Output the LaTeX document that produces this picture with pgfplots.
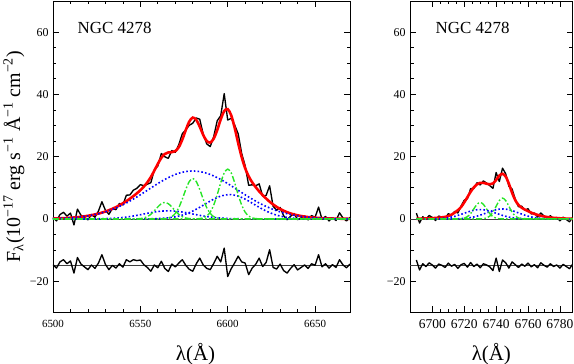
\documentclass[border=0pt]{standalone}
\usepackage{fontspec}
\setmainfont{Liberation Serif}
\usepackage{pgfplots}
\usepackage{pgfplotstable}
\pgfplotsset{compat=1.18}
\definecolor{fitred}{rgb}{1,0,0}
\definecolor{cblue}{rgb}{0,0,1}
\definecolor{cgreen}{rgb}{0.15,0.9,0.15}

\pgfplotstableread{
x obs fit res g1 g2 g3 b1 b2 b3
6500 0.42 0.12 -14.7 0 0 0 0.12 0 0
6502 -0.65 0.15 -15.8 0 0 0 0.15 0 0
6504 1.39 0.19 -13.8 0 0 0 0.19 0 0
6506 2.14 0.24 -13.1 0 0 0 0.24 0 0
6508 0.89 0.29 -14.4 0 0 0 0.29 0 0
6510 1.87 0.37 -13.5 0 0 0 0.37 0 0
6512 -1.95 0.45 -17.4 0 0 0 0.45 0 0
6514 3.15 0.55 -12.4 0 0 0 0.55 0 0
6516 1.18 0.68 -14.5 0 0 0 0.68 0 0
6518 0.43 0.83 -15.4 0 0 0 0.82 0 0.01
6520 -0.30 1.00 -16.3 0 0 0 0.99 0 0.01
6522 1.40 1.20 -14.8 0 0 0 1.18 0 0.02
6524 0.54 1.44 -15.9 0 0 0 1.41 0 0.03
6526 2.50 1.70 -14.2 0 0 0 1.66 0 0.04
6528 5.52 2.02 -11.5 0 0 0 1.95 0 0.07
6530 2.78 2.38 -14.6 0 0 0 2.28 0 0.10
6532 1.49 2.79 -16.3 0 0 0 2.65 0 0.14
6534 3.35 3.25 -14.9 0 0 0 3.06 0 0.19
6536 2.97 3.77 -15.8 0 0 0 3.51 0 0.26
6538 4.96 4.36 -14.4 0 0 0 4.01 0 0.35
6540 4.50 5.00 -15.5 0 0 0 4.54 0 0.46
6542 7.61 5.71 -13.1 0 0 0 5.11 0 0.60
6544 7.69 6.49 -13.8 0 0 0 5.73 0 0.76
6546 9.22 7.32 -13.1 0.01 0 0 6.37 0 0.94
6548 9.82 8.22 -13.4 0.03 0 0 7.05 0 1.14
6550 11.01 9.21 -13.2 0.10 0 0 7.75 0.01 1.35
6552 10.67 10.37 -14.7 0.30 0 0 8.47 0.02 1.58
6554 11.14 11.74 -15.6 0.72 0 0 9.19 0.03 1.80
6556 11.64 13.44 -16.8 1.47 0 0 9.92 0.04 2.01
6558 15.70 15.50 -14.8 2.58 0 0 10.64 0.07 2.21
6560 16.98 17.68 -15.7 3.85 0 0 11.35 0.11 2.37
6562 21.00 19.60 -13.6 4.89 0.02 0 12.03 0.16 2.50
6564 19.96 20.86 -15.9 5.30 0.08 0 12.67 0.24 2.57
6566 19.45 21.35 -16.9 4.89 0.26 0 13.26 0.34 2.60
6568 21.94 21.44 -14.5 3.85 0.73 0 13.80 0.49 2.57
6570 21.38 21.78 -15.4 2.58 1.76 0 14.27 0.67 2.50
6572 23.83 23.03 -14.2 1.47 3.61 0 14.67 0.91 2.37
6574 27.35 25.45 -13.1 0.72 6.33 0 14.98 1.21 2.21
6576 28.64 28.54 -14.9 0.30 9.44 0 15.21 1.58 2.01
6578 30.07 31.27 -16.2 0.10 12.00 0 15.35 2.02 1.80
6580 30.74 32.54 -16.8 0.03 13.00 0 15.40 2.53 1.58
6582 32.43 31.83 -14.4 0 12.00 0.02 15.35 3.11 1.35
6584 32.02 29.62 -12.6 0 9.44 0.10 15.21 3.73 1.14
6586 27.16 26.96 -14.8 0 6.33 0.32 14.98 4.39 0.94
6588 24.11 25.01 -15.9 0 3.61 0.90 14.67 5.07 0.76
6590 23.22 24.52 -16.3 0 1.76 2.16 14.27 5.73 0.60
6592 26.48 25.78 -14.3 0 0.73 4.45 13.80 6.34 0.46
6594 31.54 28.54 -12.0 0 0.26 7.79 13.26 6.88 0.35
6596 33.15 31.95 -13.8 0 0.08 11.62 12.67 7.32 0.26
6598 40.23 34.63 -9.4 0 0.02 14.77 12.03 7.62 0.19
6600 31.77 35.27 -18.5 0 0 16.00 11.35 7.78 0.14
6602 32.29 33.29 -16.0 0 0 14.77 10.64 7.78 0.10
6604 30.13 29.23 -14.1 0 0 11.62 9.92 7.62 0.07
6606 27.34 24.34 -12.0 0 0 7.79 9.19 7.32 0.04
6608 21.03 19.83 -13.8 0 0 4.45 8.47 6.88 0.03
6610 17.07 16.27 -14.2 0 0 2.16 7.75 6.34 0.02
6612 10.79 13.69 -17.9 0 0 0.90 7.05 5.73 0.01
6614 10.96 11.76 -15.8 0 0 0.32 6.37 5.07 0
6616 10.62 10.22 -14.6 0 0 0.10 5.73 4.39 0
6618 11.26 8.86 -12.6 0 0 0.02 5.11 3.73 0
6620 7.35 7.65 -15.3 0 0 0 4.54 3.11 0
6622 7.54 6.54 -14.0 0 0 0 4.01 2.53 0
6624 10.63 5.53 -9.9 0 0 0 3.51 2.02 0
6626 4.04 4.64 -15.6 0 0 0 3.06 1.58 0
6628 2.76 3.86 -16.1 0 0 0 2.65 1.21 0
6630 3.69 3.19 -14.5 0 0 0 2.28 0.91 0
6632 1.02 2.62 -16.6 0 0 0 1.95 0.67 0
6634 -0.25 2.15 -17.4 0 0 0 1.66 0.49 0
6636 0.85 1.75 -15.9 0 0 0 1.41 0.34 0
6638 1.72 1.42 -14.7 0 0 0 1.18 0.24 0
6640 -0.25 1.15 -16.4 0 0 0 0.99 0.16 0
6642 0.33 0.93 -15.6 0 0 0 0.82 0.11 0
6644 0.95 0.75 -14.8 0 0 0 0.68 0.07 0
6646 -0.31 0.59 -15.9 0 0 0 0.55 0.04 0
6648 1.08 0.48 -14.4 0 0 0 0.45 0.03 0
6650 0.49 0.39 -14.9 0 0 0 0.37 0.02 0
6652 3.80 0.30 -11.5 0 0 0 0.29 0.01 0
6654 -0.16 0.24 -15.4 0 0 0 0.24 0 0
6656 0.79 0.19 -14.4 0 0 0 0.19 0 0
6658 -0.65 0.15 -15.8 0 0 0 0.15 0 0
6660 0.42 0.12 -14.7 0 0 0 0.12 0 0
6662 -0.51 0.09 -15.6 0 0 0 0.09 0 0
6664 1.97 0.07 -13.1 0 0 0 0.07 0 0
6666 0.25 0.05 -14.8 0 0 0 0.05 0 0
6668 -0.66 0.04 -15.7 0 0 0 0.04 0 0
6670 0.53 0.03 -14.5 0 0 0 0.03 0 0
}\leftdata

\pgfplotstableread{
x obs fit res g4 g5 b4 b5
6690 1.85 0.05 -13.2 0 0 0 0
6692 -1.33 0.07 -16.4 0 0 0 0
6694 0.70 0.10 -14.4 0 0 0 0
6696 -0.15 0.15 -15.3 0 0 0 0
6698 1.10 0.20 -14.1 0 0 0 0
6700 0.45 0.25 -14.8 0 0 0.03 0
6702 -0.50 0.30 -15.8 0 0 0.06 0
6704 0.90 0.40 -14.5 0 0 0.10 0
6706 0.60 0.50 -14.9 0 0 0.17 0
6708 0.05 0.65 -15.6 0 0 0.27 0
6710 1.70 0.90 -14.2 0 0 0.41 0.01
6712 1.15 1.35 -15.2 0 0 0.59 0.02
6714 2.40 2.00 -14.6 0 0 0.83 0.04
6716 1.90 2.80 -15.9 0.01 0 1.13 0.06
6718 4.10 3.80 -14.7 0.06 0 1.46 0.11
6720 6.00 5.30 -14.3 0.23 0 1.82 0.18
6722 6.50 7.00 -15.5 0.72 0 2.18 0.28
6724 9.70 8.70 -14.0 1.72 0 2.51 0.43
6726 9.80 10.10 -15.3 3.21 0 2.77 0.63
6728 11.60 11.10 -14.5 4.68 0 2.94 0.89
6730 10.90 11.60 -15.7 5.30 0.01 3.00 1.20
6732 12.20 11.60 -14.4 4.68 0.07 2.94 1.56
6734 11.50 11.30 -14.8 3.21 0.29 2.77 1.94
6736 10.70 11.10 -15.4 1.72 0.91 2.51 2.32
6738 9.80 11.40 -16.6 0.72 2.18 2.18 2.67
6740 14.90 12.50 -12.6 0.23 4.06 1.82 2.95
6742 12.00 13.90 -16.9 0.06 5.91 1.46 3.14
6744 16.30 14.50 -13.2 0.01 6.70 1.13 3.20
6746 14.50 13.60 -14.1 0 5.91 0.83 3.14
6748 10.50 11.30 -15.8 0 4.06 0.59 2.95
6750 9.60 8.40 -13.8 0 2.18 0.41 2.67
6752 6.30 6.00 -14.7 0 0.91 0.27 2.32
6754 3.90 4.50 -15.6 0 0.29 0.17 1.94
6756 4.10 3.60 -14.5 0 0.07 0.10 1.56
6758 2.80 3.00 -15.2 0 0.01 0.06 1.20
6760 3.30 2.50 -14.2 0 0 0.03 0.89
6762 1.60 2.00 -15.4 0 0 0.02 0.63
6764 1.90 1.60 -14.7 0 0 0 0.43
6766 0.60 1.30 -15.7 0 0 0 0.28
6768 1.90 1.00 -14.1 0 0 0 0.18
6770 0.90 0.80 -14.9 0 0 0 0.11
6772 0.10 0.60 -15.5 0 0 0 0.06
6774 1.05 0.45 -14.4 0 0 0 0.04
6776 0.05 0.35 -15.3 0 0 0 0.02
6778 0.47 0.27 -14.8 0 0 0 0
6780 -0.60 0.20 -15.8 0 0 0 0
6782 0.55 0.15 -14.6 0 0 0 0
6784 -0.20 0.10 -15.3 0 0 0 0
6786 -0.93 0.07 -16.0 0 0 0 0
6788 0.55 0.05 -14.5 0 0 0 0
}\rightdata

\pgfplotsset{
  specax/.style={
    scale only axis,
    height=311.3bp,
    ymin=-30, ymax=70,
    ytick={-20,0,20,40,60},
    yticklabels={−20,0,20,40,60},
    minor y tick num=3,
    tick align=inside,
    major tick length=6bp,
    minor tick length=3.5bp,
    every tick/.style={black, line width=0.7pt},
    axis line style={line width=0.9pt},
    yticklabel style={font=\fontsize{12}{13}\selectfont, xshift=-1bp},
    xticklabel style={yshift=-4bp},
    clip=true,
  },
  obsline/.style={black, line width=1.35pt, line join=round},
  fitline/.style={fitred, line width=2.6pt, smooth},
  bline/.style={cblue, line width=1.6pt, dash pattern=on 1.6pt off 2.2pt, smooth},
  gline/.style={cgreen, line width=1.4pt, dash pattern=on 6pt off 2.2pt on 1.6pt off 2.2pt, smooth},
  refline/.style={black!75, line width=0.5pt},
}

\begin{document}
\begin{tikzpicture}
\begin{axis}[specax,
  width=297bp,
  xmin=6500, xmax=6670,
  xtick={6500,6550,6600,6650},
  xticklabels={6500,6550,6600,6650},
  minor x tick num=4,
  xticklabel style={font=\fontsize{11}{12}\selectfont},
  xlabel={λ(Å)},
  xlabel style={at={(axis description cs:0.5,0)}, anchor=center, yshift=-42bp, xshift=-6bp, font=\fontsize{21}{24}\selectfont},
  ylabel={F\textsubscript{λ}(10\textsuperscript{−17} erg s\textsuperscript{−1} Å\textsuperscript{−1} cm\textsuperscript{−2})},
  ylabel style={at={(axis description cs:0,0.5)}, anchor=center, yshift=39bp, font=\fontsize{20}{24}\selectfont},
]
\addplot[refline] coordinates {(6500,0) (6670,0)};
\addplot[refline] coordinates {(6500,-15) (6670,-15)};
\addplot[obsline] table[x=x, y=obs] {\leftdata};
\addplot[obsline] table[x=x, y=res] {\leftdata};
\addplot[fitline] table[x=x, y=fit] {\leftdata};
\addplot[bline] table[x=x, y=b1] {\leftdata};
\addplot[bline] table[x=x, y=b2] {\leftdata};
\addplot[bline] table[x=x, y=b3] {\leftdata};
\addplot[gline] table[x=x, y=g1] {\leftdata};
\addplot[gline] table[x=x, y=g2] {\leftdata};
\addplot[gline] table[x=x, y=g3] {\leftdata};
\node[anchor=west, inner sep=0pt, font=\fontsize{17}{20}\selectfont] at (axis cs:6514,61.4) {NGC 4278};
\end{axis}

\begin{axis}[specax,
  at={(357bp,0)},
  width=162.7bp,
  xmin=6686, xmax=6788,
  xtick={6700,6720,6740,6760,6780},
  xticklabels={6700,6720,6740,6760,6780},
  minor x tick num=3,
  xticklabel style={font=\fontsize{13.5}{14}\selectfont},
  xlabel={λ(Å)},
  xlabel style={at={(axis description cs:0.5,0)}, anchor=center, yshift=-42bp, font=\fontsize{21}{24}\selectfont},
]
\addplot[refline] coordinates {(6686,0) (6788,0)};
\addplot[refline] coordinates {(6686,-15) (6788,-15)};
\addplot[obsline] table[x=x, y=obs] {\rightdata};
\addplot[obsline] table[x=x, y=res] {\rightdata};
\addplot[fitline] table[x=x, y=fit] {\rightdata};
\addplot[bline] table[x=x, y=b4] {\rightdata};
\addplot[bline] table[x=x, y=b5] {\rightdata};
\addplot[gline] table[x=x, y=g4] {\rightdata};
\addplot[gline] table[x=x, y=g5] {\rightdata};
\node[anchor=west, inner sep=0pt, font=\fontsize{17}{20}\selectfont] at (axis cs:6702,61.4) {NGC 4278};
\end{axis}
\pgfresetboundingbox
\path[use as bounding box] (-53bp,-51.7bp) rectangle (521bp,312.3bp);
\end{tikzpicture}
\end{document}
